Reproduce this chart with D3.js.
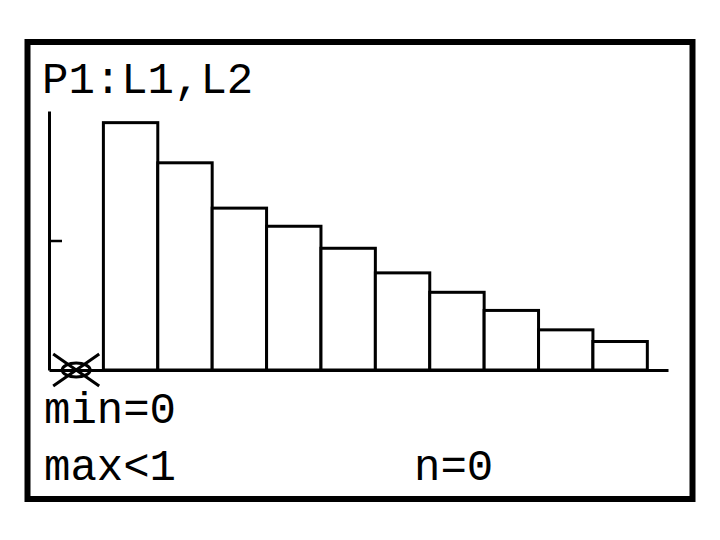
<!DOCTYPE html>
<html>
<head>
<meta charset="utf-8">
<script src="https://cdn.jsdelivr.net/npm/d3@7"></script>
<style>
  body { margin: 0; background: #fff; }
  svg text { font-family: "Liberation Mono", "Courier New", monospace; fill: #000; }
</style>
</head>
<body>
<div id="chart"></div>
<script>
const binStarts = [1, 2, 3, 4, 5, 6, 7, 8, 9, 10];
const counts = [19.1, 16.0, 12.5, 11.1, 9.4, 7.5, 6.0, 4.6, 3.1, 2.2];
const yTicks = [10];
const title = "P1:L1,L2";
const minLabel = "min=0";
const maxLabel = "max<1";
const nLabel = "n=0";

const width = 720, height = 540;

const svg = d3.select("#chart").append("svg")
    .attr("width", width)
    .attr("height", height);

// calculator screen frame
svg.append("rect")
    .attr("x", 27.5).attr("y", 42)
    .attr("width", 665).attr("height", 457)
    .attr("fill", "#fff")
    .attr("stroke", "#000")
    .attr("stroke-width", 6);

const x = d3.scaleLinear().domain([0, 11.38]).range([49, 668]);
const y = d3.scaleLinear().domain([0, 20]).range([370, 111]);

const g = svg.append("g");

// bars
g.selectAll("rect.bar")
    .data(binStarts)
    .join("rect")
    .attr("class", "bar")
    .attr("x", d => x(d))
    .attr("y", (d, i) => y(counts[i]))
    .attr("width", d => x(d + 1) - x(d))
    .attr("height", (d, i) => y(0) - y(counts[i]))
    .attr("fill", "#fff")
    .attr("stroke", "#000")
    .attr("stroke-width", 3);

// axes
const xAxis = g.append("g")
    .attr("transform", `translate(0,${y(0)})`)
    .call(d3.axisBottom(x).tickValues([]).tickSizeOuter(0));
xAxis.select(".domain").attr("stroke-width", 3);

const yAxis = g.append("g")
    .attr("transform", `translate(${x(0)},0)`)
    .call(d3.axisLeft(y).tickValues(yTicks).tickSize(-13).tickSizeOuter(0).tickFormat(""));
yAxis.select(".domain").attr("stroke-width", 3);
yAxis.selectAll(".tick line").attr("stroke-width", 2.5);

// trace cursor at origin
const cx = x(0.5), cy = y(0);
g.append("ellipse")
    .attr("cx", cx).attr("cy", cy)
    .attr("rx", 14).attr("ry", 7)
    .attr("fill", "none")
    .attr("stroke", "#000")
    .attr("stroke-width", 3);
g.append("path")
    .attr("d", `M${cx - 23},${cy - 16}L${cx + 23},${cy + 16}M${cx - 23},${cy + 16}L${cx + 23},${cy - 16}`)
    .attr("stroke", "#000")
    .attr("stroke-width", 3);

// texts
svg.append("text").attr("x", 42).attr("y", 93)
    .attr("font-size", 44).text(title);
svg.append("text").attr("x", 44).attr("y", 423)
    .attr("font-size", 44).text(minLabel);
svg.append("text").attr("x", 44).attr("y", 480)
    .attr("font-size", 44).text(maxLabel);
svg.append("text").attr("x", 414).attr("y", 480)
    .attr("font-size", 44).text(nLabel);
</script>
</body>
</html>
